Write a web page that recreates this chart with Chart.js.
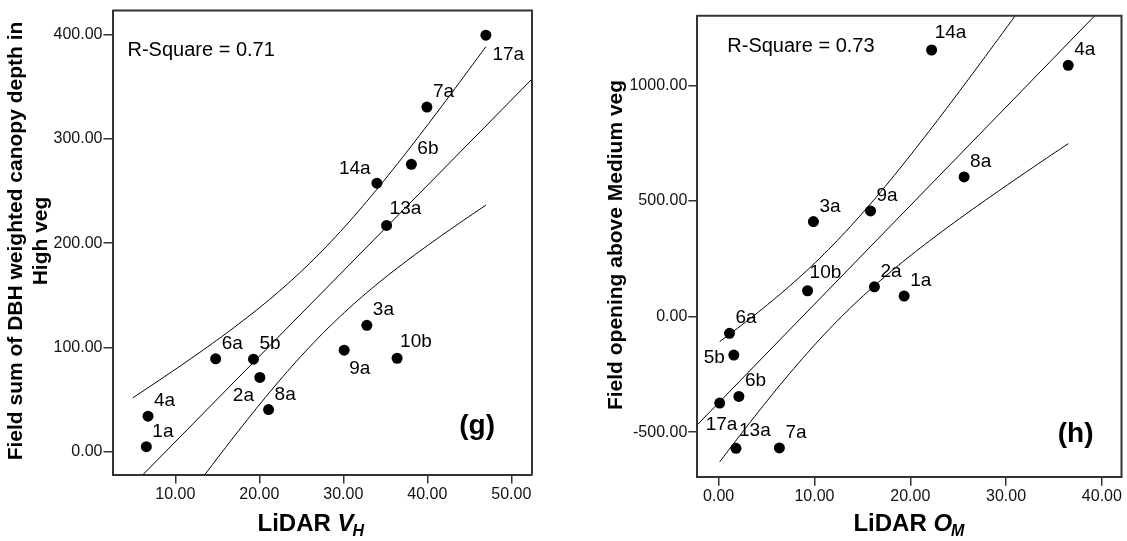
<!DOCTYPE html>
<html>
<head>
<meta charset="utf-8">
<title>LiDAR vs field vegetation measures</title>
<script src="https://cdn.jsdelivr.net/npm/chart.js@4.4.1/dist/chart.umd.min.js"></script>
<style>
  html, body { margin: 0; padding: 0; background: #fff; }
  #wrap { position: relative; width: 1127px; height: 541px; overflow: hidden; }
  .panel { position: absolute; top: 0; }
  #panel-g { left: 0; }
  #panel-h { left: 563px; }
</style>
</head>
<body>
<div id="wrap">
  <div class="panel" id="panel-g"><canvas id="chart-g" width="563" height="541"></canvas></div>
  <div class="panel" id="panel-h"><canvas id="chart-h" width="564" height="541"></canvas></div>
</div>
<script>
// (g) LiDAR V_H against field sum of DBH weighted canopy depth, high veg
const sitesG = ['17a', '7a', '6b', '14a', '13a', '3a', '9a', '10b', '6a', '5b', '2a', '8a', '4a', '1a'];
const vhG = [46.97, 39.95, 38.1, 34.0, 35.15, 32.8, 30.1, 36.4, 14.8, 19.3, 20.06, 21.1, 6.75, 6.55];
const depthG = [399.4, 330.5, 275.6, 257.5, 217.1, 121.3, 97.5, 89.8, 89.2, 88.9, 71.4, 40.6, 34.3, 5.1];
const xTicksG = [10, 20, 30, 40, 50];
const yTicksG = [0, 100, 200, 300, 400];
const rSquareG = '0.71';

// (h) LiDAR O_M against field opening above medium veg
const sitesH = ['14a', '4a', '8a', '9a', '3a', '10b', '2a', '1a', '6a', '5b', '6b', '17a', '13a', '7a'];
const omH = [22.23, 36.49, 25.62, 15.85, 9.89, 9.28, 16.26, 19.36, 1.13, 1.58, 2.11, 0.11, 1.81, 6.34];
const openingH = [1152.7, 1086.5, 603.7, 456.8, 410.7, 111.4, 128.6, 88.6, -72.9, -167.0, -345.7, -374.3, -570.0, -568.6];
const xTicksH = [0, 10, 20, 30, 40];
const yTicksH = [-500, 0, 500, 1000];
const rSquareH = '0.73';

const FONT = 'Arial, "Liberation Sans", Helvetica, sans-serif';
const T95_DF12 = 2.179; // two-sided 95% t value, n - 2 = 12

// label offsets from the dot centre [dx to text left, dy to baseline]
const DEFAULT_LABEL_OFFSET = [6, -10];
const labelOffsetsG = {
  '17a': [6.5, 24.5], '14a': [-38, -9], '13a': [3, -11.5], '10b': [3, -11.5],
  '9a': [5, 24], '2a': [-27, 24]
};
const labelOffsetsH = {
  '14a': [3, -12], '10b': [2, -13], '13a': [3, -12], '5b': [-30, 8], '17a': [-14, 27]
};

function linearFit(xs, ys) {
  const n = xs.length;
  const mx = xs.reduce((a, b) => a + b, 0) / n;
  const my = ys.reduce((a, b) => a + b, 0) / n;
  let sxx = 0, sxy = 0;
  xs.forEach((x, i) => {
    sxx += (x - mx) * (x - mx);
    sxy += (x - mx) * (ys[i] - my);
  });
  const slope = sxy / sxx;
  const icpt = my - slope * mx;
  let sse = 0;
  xs.forEach((x, i) => {
    const r = ys[i] - (icpt + slope * x);
    sse += r * r;
  });
  return { n, mx, sxx, slope, icpt, s: Math.sqrt(sse / (n - 2)) };
}

// 95% confidence band for the mean prediction
function bandCurve(fit, x0, x1, sign) {
  const pts = [];
  const steps = 80;
  for (let i = 0; i <= steps; i++) {
    const x = x0 + (x1 - x0) * i / steps;
    const half = T95_DF12 * fit.s * Math.sqrt(1 / fit.n + (x - fit.mx) * (x - fit.mx) / fit.sxx);
    pts.push({ x, y: fit.icpt + fit.slope * x + sign * half });
  }
  return pts;
}

const panelDecor = {
  id: 'panelDecor',
  afterDatasetsDraw(chart, args, opts) {
    const { ctx } = chart;
    const meta = chart.getDatasetMeta(chart.data.datasets.length - 1);
    ctx.save();
    ctx.fillStyle = '#000';
    ctx.font = '19px ' + FONT;
    ctx.textAlign = 'left';
    ctx.textBaseline = 'alphabetic';
    meta.data.forEach((el, i) => {
      const name = opts.sites[i];
      const off = opts.labelOffsets[name] || DEFAULT_LABEL_OFFSET;
      ctx.fillText(name, el.x + off[0], el.y + off[1]);
    });
    ctx.restore();
  },
  afterDraw(chart, args, opts) {
    const { ctx, chartArea: a } = chart;
    ctx.save();

    // close the box on top and right
    ctx.strokeStyle = '#333';
    ctx.lineWidth = 2;
    ctx.beginPath();
    ctx.moveTo(a.left, a.top);
    ctx.lineTo(a.right, a.top);
    ctx.lineTo(a.right, a.bottom);
    ctx.stroke();

    ctx.fillStyle = '#000';
    ctx.textBaseline = 'alphabetic';

    // R-Square note
    ctx.font = '20px ' + FONT;
    ctx.textAlign = 'left';
    ctx.fillText('R-Square = ' + opts.rSquare, a.left + opts.rsPos[0], a.top + opts.rsPos[1]);

    // panel letter
    ctx.font = 'bold 28px ' + FONT;
    ctx.textAlign = 'right';
    ctx.fillText(opts.panel, a.right + opts.panelPos[0], a.bottom + opts.panelPos[1]);

    // x title with italic subscripted symbol
    const big = 'bold 24px ' + FONT;
    const symFont = 'italic bold 24px ' + FONT;
    const subFont = 'italic bold 16px ' + FONT;
    ctx.textAlign = 'left';
    ctx.font = big;
    const w1 = ctx.measureText('LiDAR ').width;
    ctx.font = symFont;
    const w2 = ctx.measureText(opts.symbol).width;
    ctx.font = subFont;
    const w3 = ctx.measureText(opts.sub).width;
    let x = (a.left + a.right) / 2 + opts.xTitleShift - (w1 + w2 + w3) / 2;
    const base = opts.xTitleBase;
    ctx.font = big;
    ctx.fillText('LiDAR ', x, base);
    x += w1;
    ctx.font = symFont;
    ctx.fillText(opts.symbol, x, base);
    x += w2 - 1;
    ctx.font = subFont;
    ctx.fillText(opts.sub, x, base + 5);

    // rotated y title, one entry per line
    ctx.font = 'bold 21px ' + FONT;
    ctx.textAlign = 'center';
    opts.yTitle.forEach((line, i) => {
      ctx.save();
      ctx.translate(opts.yTitleBase[i], opts.yTitleMid);
      ctx.rotate(-Math.PI / 2);
      ctx.fillText(line, 0, 0);
      ctx.restore();
    });

    ctx.restore();
  }
};

function makePanel(canvasId, p) {
  const fit = linearFit(p.xs, p.ys);
  const lineStyle = {
    showLine: true, pointRadius: 0, borderColor: '#000', borderWidth: 1,
    backgroundColor: '#000', tension: 0
  };
  const axisStyle = (ticks, fitSize) => ({
    type: 'linear',
    grid: { drawOnChartArea: false, color: '#333', lineWidth: 1.5, tickLength: 9 },
    border: { display: true, color: '#333', width: 2 },
    ticks: {
      color: '#111',
      font: { family: FONT, size: 16 },
      padding: 1,
      maxRotation: 0,
      callback: v => v.toFixed(2)
    },
    afterBuildTicks: s => { s.ticks = ticks.map(v => ({ value: v })); },
    afterFit: fitSize
  });

  const xScale = axisStyle(p.xTicks, s => { s.height = p.xAxisHeight; });
  xScale.min = p.xRange[0];
  xScale.max = p.xRange[1];
  const yScale = axisStyle(p.yTicks, s => { s.width = p.yAxisWidth; });
  yScale.min = p.yRange[0];
  yScale.max = p.yRange[1];

  return new Chart(document.getElementById(canvasId), {
    type: 'scatter',
    data: {
      datasets: [
        Object.assign({ label: 'Linear fit', data: [
          { x: p.xRange[0], y: fit.icpt + fit.slope * p.xRange[0] },
          { x: p.xRange[1], y: fit.icpt + fit.slope * p.xRange[1] }
        ] }, lineStyle),
        Object.assign({ label: 'Upper 95% CI', data: bandCurve(fit, p.bandRange[0], p.bandRange[1], 1) }, lineStyle),
        Object.assign({ label: 'Lower 95% CI', data: bandCurve(fit, p.bandRange[0], p.bandRange[1], -1) }, lineStyle),
        {
          label: 'Sites',
          data: p.xs.map((x, i) => ({ x, y: p.ys[i] })),
          pointRadius: 5.5,
          pointBackgroundColor: '#000',
          pointBorderWidth: 0,
          showLine: false
        }
      ]
    },
    options: {
      responsive: false,
      animation: false,
      events: [],
      layout: { padding: p.padding },
      scales: { x: xScale, y: yScale },
      plugins: {
        legend: { display: false },
        tooltip: { enabled: false },
        panelDecor: {
          sites: p.sites,
          labelOffsets: p.labelOffsets,
          rSquare: p.rSquare,
          rsPos: p.rsPos,
          panel: p.panel,
          panelPos: p.panelPos,
          symbol: p.symbol,
          sub: p.sub,
          xTitleShift: p.xTitleShift,
          xTitleBase: 531,
          yTitle: p.yTitle,
          yTitleBase: p.yTitleBase,
          yTitleMid: p.yTitleMid
        }
      }
    },
    plugins: [panelDecor]
  });
}

makePanel('chart-g', {
  sites: sitesG, xs: vhG, ys: depthG,
  xTicks: xTicksG, yTicks: yTicksG,
  xRange: [2.52, 52.46], yRange: [-21.6, 422.9],
  bandRange: [4.95, Math.max(...vhG)],
  padding: { left: 0, top: 5.5, right: 31, bottom: 0 },
  yAxisWidth: 112.5, xAxisHeight: 66.5,
  labelOffsets: labelOffsetsG,
  rSquare: rSquareG, rsPos: [15, 45.5],
  panel: '(g)', panelPos: [-37, -40.5],
  symbol: 'V', sub: 'H', xTitleShift: -11,
  yTitle: ['Field sum of DBH weighted canopy depth in', 'High veg'],
  yTitleBase: [21.5, 46.5], yTitleMid: 241
});

makePanel('chart-h', {
  sites: sitesH, xs: omH, ys: openingH,
  xTicks: xTicksH, yTicks: yTicksH,
  xRange: [-2.23, 42.05], yRange: [-692.9, 1301],
  bandRange: [Math.min(...omH), Math.max(...omH)],
  padding: { left: 0, top: 15.7, right: 5, bottom: 0 },
  yAxisWidth: 134.3, xAxisHeight: 64.3,
  labelOffsets: labelOffsetsH,
  rSquare: rSquareH, rsPos: [30, 36],
  panel: '(h)', panelPos: [-28, -34.7],
  symbol: 'O', sub: 'M', xTitleShift: 0,
  yTitle: ['Field opening above Medium veg'],
  yTitleBase: [58.5], yTitleMid: 245
});
</script>
</body>
</html>
